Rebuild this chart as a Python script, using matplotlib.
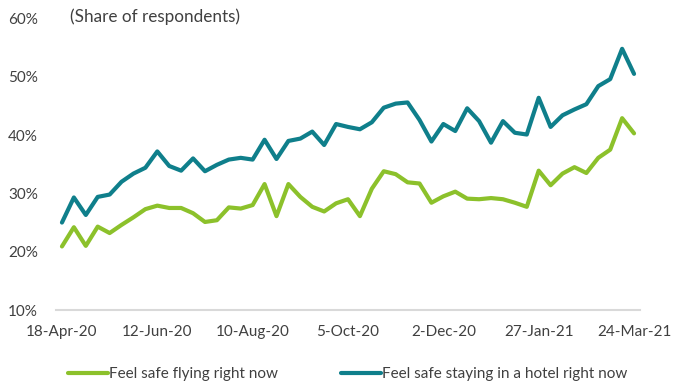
import numpy as np
import matplotlib.pyplot as plt

plt.rcParams['font.family'] = ['Lato', 'DejaVu Sans']

# weekly survey, 49 waves; only every 8th wave is labelled
tick_labels = ["18-Apr-20", "12-Jun-20", "10-Aug-20", "5-Oct-20",
               "2-Dec-20", "27-Jan-21", "24-Mar-21"]

flying = [20.9, 24.2, 21.0, 24.3, 23.2, 24.6, 25.9, 27.3, 27.9, 27.5,
          27.5, 26.6, 25.1, 25.4, 27.6, 27.4, 28.0, 31.6, 26.1, 31.6,
          29.4, 27.7, 26.9, 28.3, 29.0, 26.1, 30.8, 33.8, 33.3, 31.9,
          31.7, 28.4, 29.5, 30.3, 29.1, 29.0, 29.2, 29.0, 28.4, 27.7,
          33.9, 31.4, 33.4, 34.5, 33.5, 36.1, 37.5, 42.9, 40.3]

hotel = [25.0, 29.3, 26.3, 29.4, 29.8, 32.0, 33.4, 34.4, 37.2, 34.7,
         33.9, 36.0, 33.8, 34.9, 35.8, 36.1, 35.8, 39.2, 35.9, 39.0,
         39.4, 40.6, 38.3, 41.9, 41.4, 41.0, 42.2, 44.7, 45.4, 45.6,
         42.6, 38.9, 41.9, 40.7, 44.6, 42.4, 38.7, 42.4, 40.4, 40.1,
         46.4, 41.4, 43.4, 44.4, 45.3, 48.4, 49.6, 54.8, 50.5]

green = "#8CC12B"
teal = "#0F7F8B"

fig = plt.figure(figsize=(6.73, 3.84), dpi=100)
ax = fig.add_axes([56/673, 1 - 310/384, 584/673, (310 - 18.5)/384])

x = np.arange(len(flying))
ax.plot(x, flying, color=green, lw=3, solid_capstyle='round', label="Feel safe flying right now")
ax.plot(x, hotel, color=teal, lw=3, solid_capstyle='round', label="Feel safe staying in a hotel right now")

ax.set_xlim(-0.5, len(flying) - 0.5)
ax.set_ylim(10, 60)
ax.set_yticks(np.arange(10, 61, 10))
ax.set_yticklabels([f"{v}%" for v in range(10, 61, 10)])
ax.set_xticks(x[::8])
ax.set_xticklabels(tick_labels)

for s in ["top", "right", "left"]:
    ax.spines[s].set_visible(False)
ax.spines["bottom"].set_color("#D9D9D9")
ax.spines["bottom"].set_linewidth(1.5)
ax.tick_params(axis="both", length=0, labelsize=11, colors="#404040")
ax.tick_params(axis="y", pad=13)
ax.tick_params(axis="x", pad=11)

fig.text(70/673, 1 - 17/384, "(Share of respondents)", fontsize=12.3,
         color="#404040", va="center", ha="left")

fig.legend(loc="center", bbox_to_anchor=(348/673, 1 - 374/384), ncol=2, frameon=False,
           fontsize=11, handlelength=2.6, handletextpad=0.1, columnspacing=4.1,
           labelcolor="#404040")

fig.savefig("out.png", dpi=100)
